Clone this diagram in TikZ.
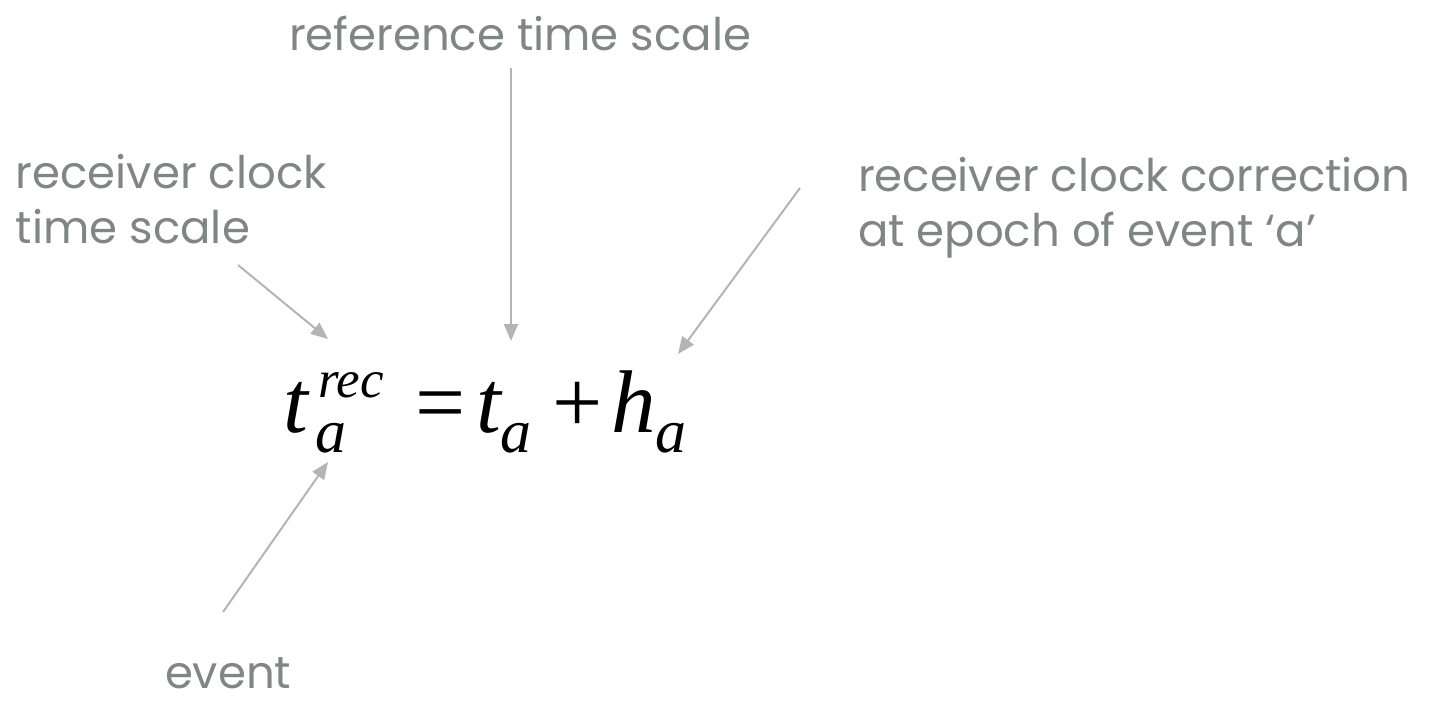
\documentclass[tikz,border=0pt]{standalone}
\usepackage{fontspec}
\setmainfont{Liberation Serif}
\newfontfamily\labfont{Poppins}
\usetikzlibrary{arrows.meta}
\definecolor{labgray}{RGB}{128,133,133}
\definecolor{arrgray}{RGB}{180,180,180}
\tikzset{
  lab/.style={inner sep=0pt, outer sep=0pt, anchor=base west, text=labgray,
    font=\labfont\fontsize{45}{55}\selectfont, align=left},
  eqmain/.style={inner sep=0pt, outer sep=0pt, anchor=base west,
    font=\fontsize{89}{89}\selectfont},
  eqsub/.style={inner sep=0pt, outer sep=0pt, anchor=base west,
    font=\fontsize{62}{62}\selectfont\itshape},
  eqsup/.style={inner sep=0pt, outer sep=0pt, anchor=base west,
    font=\fontsize{53}{53}\selectfont\itshape},
  pointer/.style={draw=arrgray, line width=2pt,
    -{Triangle[length=17pt,width=14pt]}}
}
\begin{document}
\begin{tikzpicture}[x=1pt,y=-1pt]
\useasboundingbox (0,0) rectangle (1440,702);
% labels
\node[lab] (ref) at (289,50) {reference time scale};
\node[lab] (rcts) at (16,243) {receiver clock\\time scale};
\node[lab] (rcc) at (858,246) {receiver clock correction\\at epoch of event ‘a’};
\node[lab, text depth=0pt] (ev) at (165,688) {event};
% equation
\node[eqmain] (t1) at (283,432) {\itshape t};
\node[eqsup] (rec) at (318,397) {rec};
\node[eqsub] (a1) at (315,452) {a};
\node[eqmain] (eq) at (415,432) {=};
\node[eqmain] (t2) at (476,432) {\itshape t};
\node[eqsub] (a2) at (500,452) {a};
\node[eqmain] (pl) at (552,432) {+};
\node[eqmain] (h) at (611,432) {\itshape h};
\node[eqsub] (a3) at (655,452) {a};
% connector ends
\coordinate (s1) at (238,265);
\coordinate (e1) at (328,339);
\coordinate (s2) at (511,68);
\coordinate (e2) at (511,341);
\coordinate (s3) at (800,188);
\coordinate (e3) at (678,354);
\coordinate (s4) at (223,612);
\coordinate (e4) at (328,462);
\draw[pointer] (s1) -- (e1);
\draw[pointer] (s2) -- (e2);
\draw[pointer] (s3) -- (e3);
\draw[pointer] (s4) -- (e4);
\end{tikzpicture}
\end{document}
